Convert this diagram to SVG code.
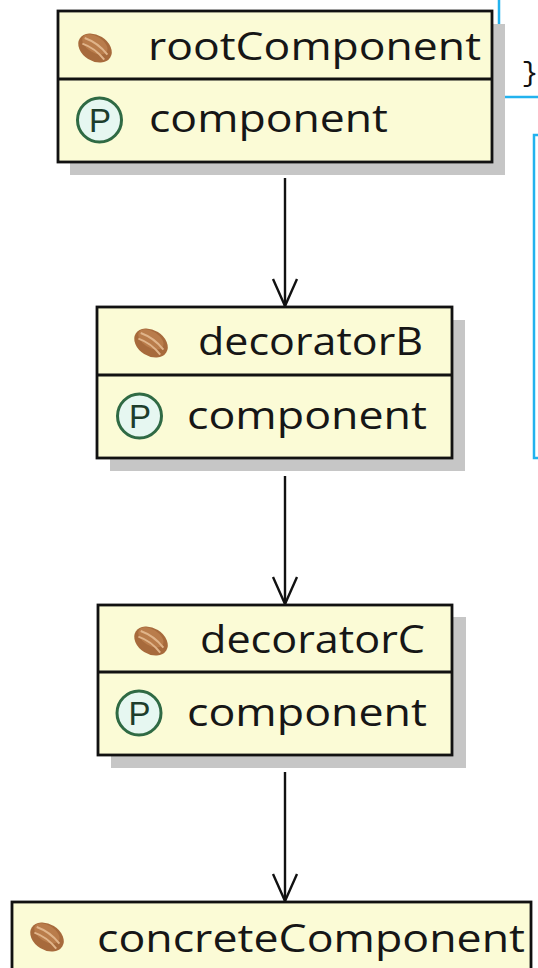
<svg xmlns="http://www.w3.org/2000/svg" width="538" height="968" viewBox="0 0 538 968">
<style>
.box{fill:#fbfbd6;stroke:#111;stroke-width:2.8}
.div{stroke:#111;stroke-width:2.8}
.shadow{fill:#c6c6c6}
.lbl{font-family:"Open Sans","Noto Sans","DejaVu Sans",sans-serif;font-size:39px;fill:#161616}
.pc{fill:#e6f7f1;stroke:#2f6a44;stroke-width:3}
.pt{font-family:"Liberation Sans","DejaVu Sans",sans-serif;font-size:33px;fill:#1d3d2c;text-anchor:middle}
.conn{stroke:#111;stroke-width:2.4;fill:none}
.note{fill:#fff;stroke:#22b2ee;stroke-width:2.5}
.brace{font-family:"Liberation Mono","DejaVu Sans Mono",monospace;font-size:28px;fill:#111;text-anchor:middle}
</style>
<defs>
<g id="bean">
<ellipse cx="0" cy="0" rx="18" ry="13" fill="#a76a3c"/>
<ellipse cx="-2" cy="-3" rx="14" ry="8" fill="#b97c4b"/>
<path d="M-14,-3 Q0,-6 14,-1 M-13,3 Q0,0 14,5" stroke="#e0b48a" stroke-width="2" fill="none"/>
</g>
</defs>
<rect width="538" height="968" fill="#ffffff"/>

<g id="note1">
<rect class="note" x="499" y="-10" width="60" height="107"/>
<text class="brace" x="530" y="81">}</text>
</g>
<g id="note2">
<rect class="note" x="534" y="135" width="30" height="323"/>
</g>

<g id="connectors">
<line class="conn" x1="285" y1="178" x2="285" y2="306"/>
<polyline class="conn" points="273,279 285,306 297,279"/>
<line class="conn" x1="285" y1="476" x2="285" y2="604"/>
<polyline class="conn" points="273,577 285,604 297,577"/>
<line class="conn" x1="285" y1="772" x2="285" y2="901"/>
<polyline class="conn" points="273,874 285,901 297,874"/>
</g>

<g id="rootComponent">
<rect class="shadow" x="70" y="24" width="435" height="151"/>
<rect class="box" x="58" y="11" width="434" height="151"/>
<line class="div" x1="58" y1="79" x2="492" y2="79"/>
<use href="#bean" transform="translate(95,48) rotate(32)"/>
<text class="lbl" x="148" y="60" textLength="333" lengthAdjust="spacingAndGlyphs">rootComponent</text>
<circle class="pc" cx="99.5" cy="120" r="22"/>
<text class="pt" x="100" y="132">P</text>
<text class="lbl" x="149" y="132" textLength="239" lengthAdjust="spacingAndGlyphs">component</text>
</g>

<g id="decoratorB">
<rect class="shadow" x="110" y="320" width="355" height="151"/>
<rect class="box" x="97" y="307" width="355" height="151"/>
<line class="div" x1="97" y1="375" x2="452" y2="375"/>
<use href="#bean" transform="translate(151,343) rotate(32)"/>
<text class="lbl" x="198" y="355" textLength="225" lengthAdjust="spacingAndGlyphs">decoratorB</text>
<circle class="pc" cx="139.5" cy="416" r="22"/>
<text class="pt" x="140" y="428">P</text>
<text class="lbl" x="187" y="429" textLength="240" lengthAdjust="spacingAndGlyphs">component</text>
</g>

<g id="decoratorC">
<rect class="shadow" x="111" y="617" width="355" height="151"/>
<rect class="box" x="98" y="605" width="354" height="150"/>
<line class="div" x1="98" y1="672" x2="452" y2="672"/>
<use href="#bean" transform="translate(151,641) rotate(32)"/>
<text class="lbl" x="200" y="653" textLength="225" lengthAdjust="spacingAndGlyphs">decoratorC</text>
<circle class="pc" cx="139" cy="713" r="22"/>
<text class="pt" x="139.5" y="725">P</text>
<text class="lbl" x="187" y="726" textLength="240" lengthAdjust="spacingAndGlyphs">component</text>
</g>

<g id="concreteComponent">
<rect class="box" x="12" y="902" width="519" height="90"/>
<use href="#bean" transform="translate(47,937) rotate(32)"/>
<text class="lbl" x="97" y="952" textLength="428" lengthAdjust="spacingAndGlyphs">concreteComponent</text>
</g>
</svg>
